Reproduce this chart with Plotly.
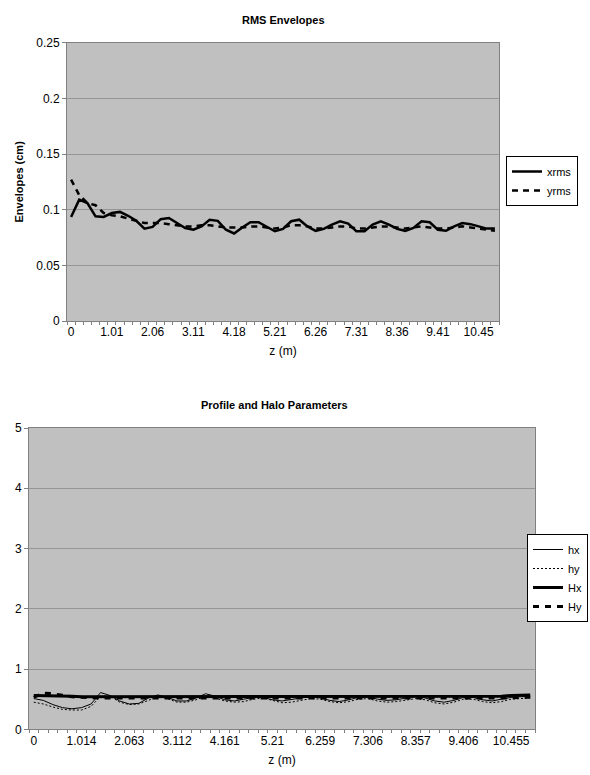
import plotly.graph_objects as go

# ---------------- data ----------------
z_labels_rms = ["0", "1.01", "2.06", "3.11", "4.18", "5.21", "6.26", "7.31", "8.36", "9.41", "10.45"]
z_labels_halo = ["0", "1.014", "2.063", "3.112", "4.161", "5.21", "6.259", "7.306", "8.357", "9.406", "10.455"]
label_every = 5

xrms = [0.0935, 0.109, 0.106, 0.094, 0.0935, 0.097, 0.098, 0.0945, 0.090, 0.083,
        0.0845, 0.0915, 0.0925, 0.088, 0.0835, 0.082, 0.085, 0.091, 0.090, 0.082,
        0.0786, 0.084, 0.0887, 0.0887, 0.085, 0.0806, 0.0827, 0.0896, 0.091, 0.085,
        0.081, 0.0827, 0.0866, 0.0896, 0.0875, 0.0806, 0.0806, 0.0866, 0.0896, 0.0866,
        0.0827, 0.081, 0.0836, 0.0896, 0.0887, 0.082, 0.081, 0.085, 0.088, 0.087,
        0.085, 0.083, 0.083]
yrms = [0.127, 0.113, 0.106, 0.104, 0.097, 0.095, 0.094, 0.092, 0.090, 0.088,
        0.088, 0.088, 0.087, 0.086, 0.085, 0.085, 0.086, 0.086, 0.085, 0.084,
        0.084, 0.084, 0.085, 0.085, 0.084, 0.083, 0.084, 0.086, 0.086, 0.085,
        0.083, 0.083, 0.084, 0.085, 0.085, 0.083, 0.083, 0.084, 0.085, 0.085,
        0.084, 0.083, 0.084, 0.085, 0.084, 0.083, 0.083, 0.084, 0.085, 0.084,
        0.083, 0.082, 0.081]

hx = [0.51, 0.48, 0.41, 0.36, 0.34, 0.36, 0.42, 0.61, 0.56, 0.47,
      0.42, 0.43, 0.52, 0.57, 0.53, 0.47, 0.47, 0.52, 0.59, 0.55,
      0.49, 0.47, 0.50, 0.53, 0.53, 0.49, 0.47, 0.50, 0.52, 0.54,
      0.52, 0.48, 0.46, 0.49, 0.53, 0.54, 0.50, 0.48, 0.49, 0.52,
      0.55, 0.52, 0.47, 0.45, 0.48, 0.53, 0.53, 0.49, 0.47, 0.50,
      0.53, 0.54, 0.55]
hy = [0.45, 0.42, 0.37, 0.33, 0.32, 0.32, 0.38, 0.55, 0.55, 0.45,
      0.41, 0.42, 0.48, 0.54, 0.51, 0.45, 0.45, 0.49, 0.55, 0.52,
      0.47, 0.45, 0.46, 0.50, 0.52, 0.48, 0.44, 0.45, 0.48, 0.51,
      0.50, 0.46, 0.44, 0.46, 0.50, 0.51, 0.47, 0.45, 0.46, 0.49,
      0.51, 0.49, 0.44, 0.42, 0.45, 0.50, 0.50, 0.46, 0.44, 0.46,
      0.50, 0.51, 0.52]
Hx = [0.56, 0.56, 0.56, 0.55, 0.55, 0.54, 0.54, 0.54, 0.54, 0.54,
      0.54, 0.54, 0.54, 0.54, 0.54, 0.54, 0.54, 0.54, 0.54, 0.54,
      0.54, 0.54, 0.54, 0.54, 0.54, 0.54, 0.54, 0.54, 0.54, 0.54,
      0.54, 0.54, 0.54, 0.55, 0.55, 0.55, 0.55, 0.55, 0.55, 0.55,
      0.55, 0.55, 0.55, 0.55, 0.55, 0.55, 0.55, 0.55, 0.55, 0.55,
      0.56, 0.56, 0.57]
Hy = [0.53, 0.60, 0.59, 0.56, 0.54, 0.53, 0.52, 0.52, 0.52, 0.52,
      0.52, 0.51, 0.51, 0.51, 0.51, 0.51, 0.51, 0.51, 0.51, 0.51,
      0.51, 0.51, 0.51, 0.51, 0.51, 0.51, 0.51, 0.51, 0.51, 0.51,
      0.51, 0.51, 0.51, 0.51, 0.51, 0.51, 0.51, 0.51, 0.51, 0.51,
      0.52, 0.52, 0.52, 0.52, 0.52, 0.52, 0.52, 0.52, 0.52, 0.52,
      0.52, 0.53, 0.53]

# ---------------- layout helpers ----------------
W, H = 590, 775
FONT = "Liberation Sans, Arial, Helvetica, sans-serif"
AX = "#808080"
GRID = "#969696"


def fx(p):
    return p / W


def fy(p):
    return 1 - p / H


idx_rms = list(range(len(xrms)))
idx_halo = list(range(len(hx)))

fig = go.Figure()

fig.add_trace(go.Scatter(x=idx_rms, y=xrms, name="xrms", mode="lines",
                         line=dict(color="black", width=2.5), xaxis="x", yaxis="y",
                         legend="legend"))
fig.add_trace(go.Scatter(x=idx_rms, y=yrms, name="yrms", mode="lines",
                         line=dict(color="black", width=2.5, dash="6px,5px"),
                         xaxis="x", yaxis="y", legend="legend"))

fig.add_trace(go.Scatter(x=idx_halo, y=hx, name="hx", mode="lines",
                         line=dict(color="black", width=1), xaxis="x2", yaxis="y2",
                         legend="legend2"))
fig.add_trace(go.Scatter(x=idx_halo, y=hy, name="hy", mode="lines",
                         line=dict(color="black", width=1, dash="2px,2px"),
                         xaxis="x2", yaxis="y2", legend="legend2"))
fig.add_trace(go.Scatter(x=idx_halo, y=Hx, name="Hx", mode="lines",
                         line=dict(color="black", width=3), xaxis="x2", yaxis="y2",
                         legend="legend2"))
fig.add_trace(go.Scatter(x=idx_halo, y=Hy, name="Hy", mode="lines",
                         line=dict(color="black", width=3, dash="6px,6px"),
                         xaxis="x2", yaxis="y2", legend="legend2"))


def xaxis_cfg(n, labels, dom):
    return dict(
        domain=dom, range=[-0.5, n - 0.5], showgrid=False, zeroline=False,
        tickmode="array", tickvals=[i * label_every for i in range(len(labels))],
        ticktext=labels, ticks="", showline=True, linecolor=AX, linewidth=1,
        mirror=True, tickfont=dict(size=12, color="black", family=FONT),
        minor=dict(tickmode="array", tickvals=[i - 0.5 for i in range(n + 1)],
                   ticks="outside", ticklen=3, tickcolor=AX, showgrid=False),
        title=dict(text="z (m)", font=dict(size=12, color="black", family=FONT), standoff=8),
        automargin=False,
    )


def yaxis_cfg(rng, dt, dom, title=None):
    d = dict(
        domain=dom, range=rng, dtick=dt, tick0=0, showgrid=True, gridcolor=GRID,
        gridwidth=1, zeroline=False, ticks="outside", ticklen=4, tickcolor=AX,
        showline=True, linecolor=AX, linewidth=1, mirror=True,
        tickfont=dict(size=12, color="black", family=FONT), automargin=False,
    )
    if title:
        d["title"] = dict(text=title, font=dict(size=11, color="black", family=FONT), standoff=10)
    return d


fig.update_layout(
    width=W, height=H, autosize=False,
    margin=dict(l=0, r=0, t=0, b=0, pad=0, autoexpand=False),
    paper_bgcolor="white", plot_bgcolor="#c0c0c0",
    font=dict(family=FONT, color="black"),
    xaxis=dict(**xaxis_cfg(len(xrms), z_labels_rms, [fx(67), fx(499)]), anchor="y"),
    yaxis=dict(**yaxis_cfg([0, 0.25], 0.05, [fy(321), fy(42.7)], "<b>Envelopes (cm)</b>"), anchor="x"),
    xaxis2=dict(**xaxis_cfg(len(hx), z_labels_halo, [fx(29), fx(535)]), anchor="y2"),
    yaxis2=dict(**yaxis_cfg([0, 5], 1, [fy(729.3), fy(428)]), anchor="x2"),
    legend=dict(x=fx(506), y=fy(181), xanchor="left", yanchor="middle",
                bgcolor="white", bordercolor="black", borderwidth=1,
                font=dict(size=11, family=FONT, color="black"),
                itemwidth=30, tracegroupgap=0),
    legend2=dict(x=fx(588), y=fy(578), xanchor="right", yanchor="middle",
                 bgcolor="white", bordercolor="black", borderwidth=1,
                 font=dict(size=11, family=FONT, color="black"),
                 itemwidth=30, tracegroupgap=0),
    annotations=[
        dict(text="<b>RMS Envelopes</b>", x=fx(283), y=fy(12), xref="paper", yref="paper",
             yanchor="top", showarrow=False, font=dict(size=11, family=FONT, color="black")),
        dict(text="<b>Profile and Halo Parameters</b>", x=fx(274), y=fy(405), xref="paper",
             yref="paper", showarrow=False, font=dict(size=11, family=FONT, color="black")),
    ],
)

fig.write_html("out.html", config={"displayModeBar": False},
               post_script="document.body.style.margin='0';document.body.style.overflow='hidden';")
